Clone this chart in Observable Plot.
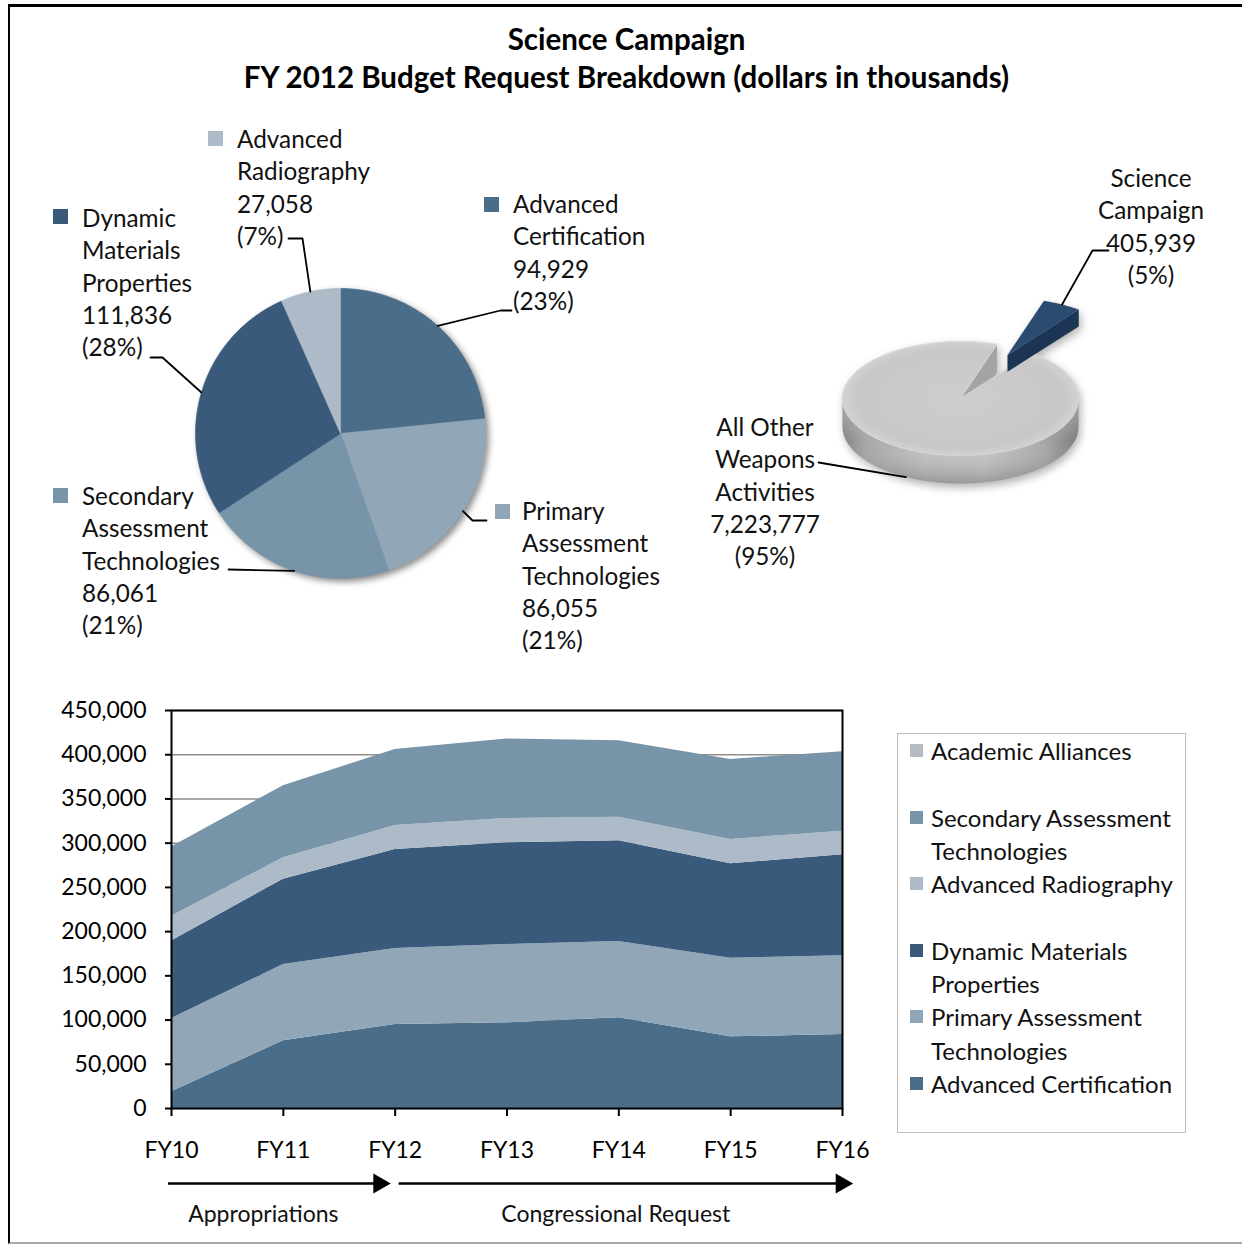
<!DOCTYPE html>
<html>
<head>
<meta charset="utf-8">
<script src="https://cdn.jsdelivr.net/npm/d3@7"></script>
<script src="https://cdn.jsdelivr.net/npm/@observablehq/plot@0.6"></script>
<style>
html,body{margin:0;padding:0;background:#fff;}
#root{position:relative;width:1242px;height:1245px;overflow:hidden;font-family:Lato,"Open Sans",sans-serif;color:#111;}
#root > svg{position:absolute;left:0;top:0;}
.pageframe{position:absolute;left:8px;top:4px;width:1240px;height:1240px;border-top:3px solid #000;border-left:2px solid #000;border-bottom:2px solid #aaa;box-sizing:border-box;}
.title{position:absolute;left:0;width:1253px;text-align:center;top:20px;font-weight:700;font-size:29.5px;line-height:38px;color:#000;}
.lbl{position:absolute;font-size:24.3px;line-height:32.3px;white-space:nowrap;color:#111;}
.sw{position:absolute;width:15px;height:15px;}
.legend{position:absolute;left:897px;top:733px;width:289px;height:400px;border:1px solid #bdbdbd;box-sizing:border-box;}
.legend .item{position:absolute;left:33px;font-size:24px;line-height:33.3px;white-space:nowrap;color:#111;}
.legend .lsw{position:absolute;left:12px;width:13px;height:13px;}
</style>
</head>
<body>
<div id="root"></div>
<script>
// ================= DATA =================
const years = ["FY10", "FY11", "FY12", "FY13", "FY14", "FY15", "FY16"];
const seriesNames = ["Advanced Certification", "Primary Assessment Technologies", "Dynamic Materials Properties", "Advanced Radiography", "Secondary Assessment Technologies", "Academic Alliances"];
const advancedCertification = [18800, 76500, 94929, 96900, 102500, 81000, 83700];
const primaryAssessment     = [82900, 86300, 86055, 88600, 86300, 89000, 88900];
const dynamicMaterials      = [87800, 96500, 111836, 115000, 113800, 106700, 114200];
const advancedRadiography   = [27900, 24100, 27058, 27500, 26800, 27500, 26800];
const secondaryAssessment   = [78400, 81400, 86061, 89700, 86300, 90500, 89700];
const academicAlliances     = [0, 0, 0, 0, 0, 0, 0];
const seriesValues = [advancedCertification, primaryAssessment, dynamicMaterials, advancedRadiography, secondaryAssessment, academicAlliances];
const yTicks = [0, 50000, 100000, 150000, 200000, 250000, 300000, 350000, 400000, 450000];

const pieNames  = ["Advanced Certification", "Primary Assessment Technologies", "Secondary Assessment Technologies", "Dynamic Materials Properties", "Advanced Radiography"];
const pieValues = [94929, 86055, 86061, 111836, 27058];

const campaignNames  = ["Science Campaign", "All Other Weapons Activities"];
const campaignValues = [405939, 7223777];

const periodLabels = ["Appropriations", "Congressional Request"];
const periodStart  = [0, 2];   // index into years
const periodEnd    = [2, 6];

const legendOrder = ["Academic Alliances", "", "Secondary Assessment Technologies", "Advanced Radiography", "", "Dynamic Materials Properties", "Primary Assessment Technologies", "Advanced Certification"];

const titleLines = ["Science Campaign", "FY 2012 Budget Request Breakdown (dollars in thousands)"];

// ================= STYLE / LAYOUT =================
const colors = {
  "Advanced Certification": "#4a6d8a",
  "Primary Assessment Technologies": "#91a7b8",
  "Dynamic Materials Properties": "#3a5a7b",
  "Advanced Radiography": "#adbac8",
  "Secondary Assessment Technologies": "#7794a8",
  "Academic Alliances": "#b4bbc2"
};
const wrap = {
  "Advanced Certification": ["Advanced", "Certification"],
  "Primary Assessment Technologies": ["Primary", "Assessment", "Technologies"],
  "Secondary Assessment Technologies": ["Secondary", "Assessment", "Technologies"],
  "Dynamic Materials Properties": ["Dynamic", "Materials", "Properties"],
  "Advanced Radiography": ["Advanced", "Radiography"],
  "Science Campaign": ["Science", "Campaign"],
  "All Other Weapons Activities": ["All Other", "Weapons", "Activities"]
};
const legendWrap = {
  "Secondary Assessment Technologies": ["Secondary Assessment", "Technologies"],
  "Dynamic Materials Properties": ["Dynamic Materials", "Properties"],
  "Primary Assessment Technologies": ["Primary Assessment", "Technologies"]
};
const P1 = {cx: 340, cy: 433, r: 145};
const pieLabelPos = {
  "Advanced Certification": {tx: 513, ty: 188, sx: 484, sy: 197, leader: [[500, 310], [511, 310]]},
  "Primary Assessment Technologies": {tx: 522, ty: 495, sx: 495, sy: 504, leader: [[472, 520], [486, 520]]},
  "Secondary Assessment Technologies": {tx: 82, ty: 480, sx: 53, sy: 488, leader: [[228, 569]]},
  "Dynamic Materials Properties": {tx: 82, ty: 202, sx: 53, sy: 209, leader: [[162, 357], [150, 357]]},
  "Advanced Radiography": {tx: 237, ty: 123, sx: 208, sy: 131, leader: [[302, 238], [288, 238]]}
};
const C3 = {cx: 960, cy: 398, rx: 118, ry: 57, depth: 28, explode: 0.86, pieceDepth: 0.6, start: Math.PI / 10};
const campLabelPos = {
  "Science Campaign": {cx: 1151, ty: 162, leader: [[1092, 250], [1108, 250]]},
  "All Other Weapons Activities": {cx: 765, ty: 411, leader: [[818, 462]]}
};
const A = {left: 171, right: 842, top: 710, bottom: 1108};
const arrowStartPx = [-3, 4], arrowEndPx = [-9, 6], labelDx = [-20, -3];

const root = document.getElementById("root");
const fmt = d3.format(",");
function addDiv(cls, style, html) {
  const d = document.createElement("div");
  d.className = cls;
  Object.assign(d.style, style);
  d.innerHTML = html;
  root.appendChild(d);
  return d;
}
addDiv("pageframe", {}, "");
addDiv("title", {}, titleLines.join("<br>"));

// ================= AREA CHART =================
const areaData = seriesNames.flatMap((s, k) => seriesValues[k].map((v, i) => ({series: s, i, value: v})));
const pxPerUnit = (A.right - A.left) / (years.length - 1);
const arrowData = periodLabels.map((l, k) => ({
  label: l,
  a: periodStart[k] + arrowStartPx[k] / pxPerUnit,
  b: periodEnd[k] + arrowEndPx[k] / pxPerUnit,
  mid: (periodStart[k] + periodEnd[k]) / 2 + labelDx[k] / pxPerUnit
}));
const areaSvg = Plot.plot({
  width: 1242, height: 1245,
  marginLeft: A.left, marginRight: 1242 - A.right, marginTop: A.top, marginBottom: 1245 - A.bottom,
  style: {background: "transparent", fontFamily: "Lato, sans-serif", fontSize: "23px", color: "#000", overflow: "visible"},
  x: {domain: [0, years.length - 1]},
  y: {domain: [0, 450000]},
  color: {domain: seriesNames, range: seriesNames.map(s => colors[s])},
  marks: [
    Plot.ruleY(yTicks, {stroke: "#8e8e8e", strokeWidth: 1.5}),
    Plot.areaY(areaData, {x: "i", y: "value", z: "series", fill: "series"}),
    Plot.frame({stroke: "#000", strokeWidth: 2}),
    Plot.axisY(yTicks, {tickFormat: d3.format(","), tickSize: 6, tickPadding: 19, strokeWidth: 2, fontSize: 23, label: null}),
    Plot.axisX(d3.range(years.length), {tickFormat: i => years[i], tickSize: 8, tickPadding: 25, strokeWidth: 2, fontSize: 23, label: null}),
    Plot.ruleY(arrowData, {y: d => 0, x1: d => d.a, x2: d => d.b - 7 / pxPerUnit, dy: 75, stroke: "#000", strokeWidth: 2.5}),
    Plot.dot(arrowData, {x: d => d.b - 7 / pxPerUnit, y: d => 0, dy: 75, symbol: "triangle", rotate: 90, r: 7.5, fill: "#000", stroke: "none"}),
    Plot.text(arrowData, {x: "mid", y: d => 0, text: "label", dy: 106, fontSize: 23, fill: "#111"})
  ]
});
root.appendChild(areaSvg);

// ================= PIE 1 =================
function wedge(name, a0, a1, ox = 0, oy = 0) {
  const n = Math.max(2, Math.ceil((a1 - a0) / 0.02));
  const pts = [{name, x: ox, y: oy}];
  for (let i = 0; i <= n; i++) {
    const t = a0 + (a1 - a0) * i / n;
    pts.push({name, x: ox + Math.sin(t), y: oy + Math.cos(t)});
  }
  pts.push({name, x: ox, y: oy});
  return pts;
}
const pie1 = d3.pie().sort(null).value(d => d.value)(pieNames.map((n, i) => ({name: n, value: pieValues[i]})));
const pieTotal = d3.sum(pieValues);
const slicePts = pie1.flatMap(a => wedge(a.data.name, a.startAngle, a.endAngle));
const p1scales = {
  x: {domain: [-1, 1], range: [P1.cx - P1.r, P1.cx + P1.r], axis: null},
  y: {domain: [-1, 1], range: [P1.cy + P1.r, P1.cy - P1.r], axis: null}
};
const pieSvg = Plot.plot({
  width: 1242, height: 1245, margin: 0,
  style: {background: "transparent", overflow: "visible", filter: "drop-shadow(3px 3px 3px rgba(0,0,0,0.45))"},
  ...p1scales,
  color: {domain: pieNames, range: pieNames.map(s => colors[s])},
  marks: [Plot.line(slicePts, {x: "x", y: "y", z: "name", fill: "name", stroke: "name", strokeWidth: 0.6})]
});
root.appendChild(pieSvg);
const toP1 = ([px, py]) => ({x: (px - P1.cx) / P1.r, y: (P1.cy - py) / P1.r});
const leader1 = pie1.flatMap(a => {
  const m = (a.startAngle + a.endAngle) / 2;
  const L = pieLabelPos[a.data.name].leader;
  return [{name: a.data.name, x: Math.sin(m), y: Math.cos(m)}, ...L.map(p => ({name: a.data.name, ...toP1(p)}))];
});
root.appendChild(Plot.plot({
  width: 1242, height: 1245, margin: 0,
  style: {background: "transparent", overflow: "visible"},
  ...p1scales,
  marks: [Plot.line(leader1, {x: "x", y: "y", z: "name", stroke: "#000", strokeWidth: 1.8})]
}));
pie1.forEach(a => {
  const n = a.data.name, p = pieLabelPos[n];
  const lines = [...wrap[n], fmt(a.data.value), `(${Math.round(a.data.value / pieTotal * 100)}%)`];
  addDiv("lbl", {left: p.tx + "px", top: p.ty + "px"}, lines.join("<br>"));
  addDiv("sw", {left: p.sx + "px", top: p.sy + "px", background: colors[n]}, "");
});

// ================= 3D PIE =================
const campTotal = d3.sum(campaignValues);
const pie2 = d3.pie().sort(null).startAngle(C3.start).endAngle(C3.start + 2 * Math.PI)
  .value(d => d.value)(campaignNames.map((n, i) => ({name: n, value: campaignValues[i]})));
const d = C3.depth / C3.ry;
const dp = d * C3.pieceDepth;
const sci = pie2[0], other = pie2[1];
const mSci = (sci.startAngle + sci.endAngle) / 2;
const ox = C3.explode * Math.sin(mSci), oy = C3.explode * Math.cos(mSci);
// grey side band (front half)
const band = [];
for (let t = Math.PI / 2; t <= 1.5 * Math.PI + 1e-9; t += 0.02) band.push({x: Math.sin(t), y: Math.cos(t)});
for (let t = 1.5 * Math.PI; t >= Math.PI / 2 - 1e-9; t -= 0.02) band.push({x: Math.sin(t), y: Math.cos(t) - d});
band.push(band[0]);
const eA = other.endAngle;
const greyWall = [{x: 0, y: 0}, {x: Math.sin(eA), y: Math.cos(eA)}, {x: Math.sin(eA), y: Math.cos(eA) - d}, {x: 0, y: -d}, {x: 0, y: 0}];
const greyTop = wedge(other.data.name, other.startAngle, other.endAngle);
const sA = sci.endAngle;
const navyWall = [{x: ox, y: oy}, {x: ox + Math.sin(sA), y: oy + Math.cos(sA)}, {x: ox + Math.sin(sA), y: oy + Math.cos(sA) - dp}, {x: ox, y: oy - dp}, {x: ox, y: oy}];
const navyTop = wedge(sci.data.name, sci.startAngle, sci.endAngle, ox, oy);
const c3scales = {
  x: {domain: [-1, 1], range: [C3.cx - C3.rx, C3.cx + C3.rx], axis: null},
  y: {domain: [-1, 1], range: [C3.cy + C3.ry, C3.cy - C3.ry], axis: null}
};
const pie3 = Plot.plot({
  width: 1242, height: 1245, margin: 0,
  style: {background: "transparent", overflow: "visible", filter: "drop-shadow(2px 4px 4px rgba(0,0,0,0.3))"},
  ...c3scales,
  marks: [
    Plot.line(band, {x: "x", y: "y", fill: "url(#g3side)", stroke: "none"}),
    Plot.line(band, {x: "x", y: "y", fill: "url(#g3shade)", stroke: "none"}),
    Plot.line(greyWall, {x: "x", y: "y", fill: "#a4a4a4", stroke: "none"}),
    Plot.line(greyTop, {x: "x", y: "y", fill: "url(#g3top)", stroke: "#d8d8d8", strokeWidth: 1}),
    Plot.line(navyWall, {x: "x", y: "y", fill: "#1d3555", stroke: "none"}),
    Plot.line(navyTop, {x: "x", y: "y", fill: "#2c4b70", stroke: "none"})
  ]
});
const defs = d3.select(pie3).insert("defs", ":first-child");
const g1 = defs.append("linearGradient").attr("id", "g3side").attr("x1", 0).attr("x2", 1).attr("y1", 0).attr("y2", 0);
[[0, "#858585"], [0.1, "#a6a6a6"], [0.35, "#c2c2c2"], [0.6, "#c6c6c6"], [0.85, "#a9a9a9"], [1, "#7c7c7c"]]
  .forEach(([o, c]) => g1.append("stop").attr("offset", o).attr("stop-color", c));
const g2 = defs.append("linearGradient").attr("id", "g3shade").attr("x1", 0).attr("x2", 0).attr("y1", 0).attr("y2", 1);
[[0, "rgba(255,255,255,0.35)"], [0.5, "rgba(255,255,255,0)"], [1, "rgba(0,0,0,0.22)"]]
  .forEach(([o, c]) => g2.append("stop").attr("offset", o).attr("stop-color", c));
const g3 = defs.append("radialGradient").attr("id", "g3top").attr("cx", 0.5).attr("cy", 0.5).attr("r", 0.55);
[[0, "#cdcdcd"], [0.8, "#c8c8c8"], [1, "#dadada"]]
  .forEach(([o, c]) => g3.append("stop").attr("offset", o).attr("stop-color", c));
root.appendChild(pie3);

const toC3 = ([px, py]) => ({x: (px - C3.cx) / C3.rx, y: (C3.cy - py) / C3.ry});
const mOther = (other.startAngle + other.endAngle) / 2;
const leader3 = [
  {name: sci.data.name, x: ox + Math.sin(mSci), y: oy + Math.cos(mSci)},
  ...campLabelPos[sci.data.name].leader.map(p => ({name: sci.data.name, ...toC3(p)})),
  {name: other.data.name, x: Math.sin(mOther), y: Math.cos(mOther) - d},
  ...campLabelPos[other.data.name].leader.map(p => ({name: other.data.name, ...toC3(p)}))
];
root.appendChild(Plot.plot({
  width: 1242, height: 1245, margin: 0,
  style: {background: "transparent", overflow: "visible"},
  ...c3scales,
  marks: [Plot.line(leader3, {x: "x", y: "y", z: "name", stroke: "#000", strokeWidth: 1.8})]
}));
pie2.forEach(a => {
  const n = a.data.name, p = campLabelPos[n];
  const lines = [...wrap[n], fmt(a.data.value), `(${Math.round(a.data.value / campTotal * 100)}%)`];
  addDiv("lbl", {left: (p.cx - 150) + "px", width: "300px", textAlign: "center", top: p.ty + "px"}, lines.join("<br>"));
});

// ================= LEGEND =================
const leg = addDiv("legend", {}, "");
let line = 0;
legendOrder.forEach(name => {
  if (!name) { line += 1; return; }
  const lines = legendWrap[name] || [name];
  const it = document.createElement("div");
  it.className = "item";
  it.style.top = (line * 33.3) + "px";
  it.innerHTML = lines.join("<br>");
  leg.appendChild(it);
  const sw = document.createElement("div");
  sw.className = "lsw";
  sw.style.top = (line * 33.3 + 10) + "px";
  sw.style.background = colors[name];
  leg.appendChild(sw);
  line += lines.length;
});
</script>
</body>
</html>
